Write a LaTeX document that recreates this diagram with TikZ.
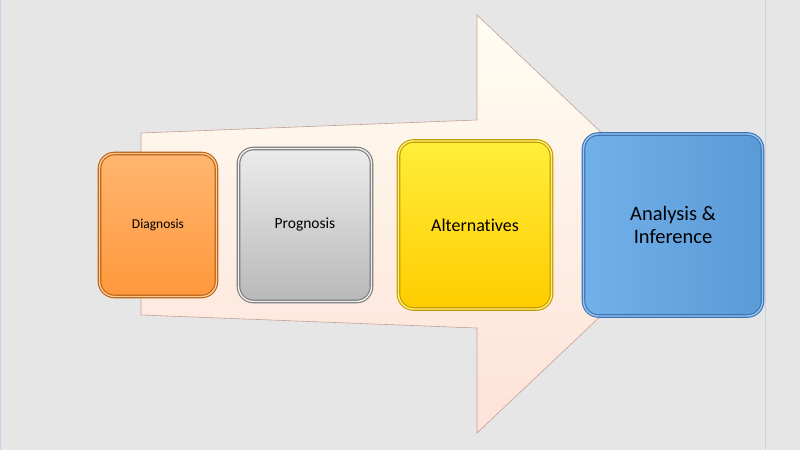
\documentclass[tikz,border=0pt]{standalone}
\usepackage{fontspec}
\setmainfont{Carlito}[Ligatures=NoCommon]
\usepackage{tikz}

\begin{document}
\begin{tikzpicture}[x=1pt,y=1pt]

	\definecolor{bggray}{RGB}{230,230,230}
	\definecolor{edgeblue}{RGB}{200,212,232}
	\definecolor{arrowtop}{RGB}{255,253,242}
	\definecolor{arrowbot}{RGB}{253,226,216}
	\definecolor{arrowedge}{RGB}{196,160,152}

	\fill[bggray] (0,0) rectangle (800,450);
	\useasboundingbox (0,0) rectangle (800,450);
	\draw[edgeblue, line width=1pt] (0.5,0) -- (0.5,450);
	\draw[edgeblue, line width=1pt] (765,0) -- (765,450);

	% big arrow behind the stages
	\tikzstyle{bigarrow} = [draw=arrowedge, line width=0.6pt, top color=arrowtop, bottom color=arrowbot]
	\path[bigarrow] (141,317) -- (477,330) -- (477,435) -- (698,226)
		-- (477,17) -- (477,122) -- (141,135) -- cycle;

	\tikzset{stage/.style = {shape=rectangle, rounded corners=15pt, align=center,
		inner sep=0pt, line width=1.1pt, double distance=1.4pt}}
	\node[stage, minimum width=117pt, minimum height=143pt,
		font={\fontsize{13.5}{16}\selectfont},
		top color={rgb,255:red,255;green,182;blue,112}, bottom color={rgb,255:red,255;green,152;blue,60},
		draw={rgb,255:red,184;green,96;blue,24}, double={rgb,255:red,255;green,200;blue,140}]
		(diag) at (158,225) {Diagnosis};
	\node[stage, minimum width=133pt, minimum height=153pt,
		font={\fontsize{15.5}{18}\selectfont},
		top color={rgb,255:red,236;green,236;blue,236}, bottom color={rgb,255:red,184;green,184;blue,184},
		draw={rgb,255:red,120;green,120;blue,120}, double={rgb,255:red,240;green,240;blue,240}]
		(prog) at (305,225) {Prognosis};
	\node[stage, minimum width=153pt, minimum height=168pt,
		font={\fontsize{18}{21}\selectfont},
		top color={rgb,255:red,255;green,238;blue,58}, bottom color={rgb,255:red,255;green,204;blue,0},
		draw={rgb,255:red,196;green,156;blue,0}, double={rgb,255:red,255;green,240;blue,120}]
		(alt) at (475,225) {Alternatives};
	\node[stage, minimum width=179pt, minimum height=182pt,
		font={\fontsize{20.5}{23}\selectfont},
		left color={rgb,255:red,114;green,176;blue,234}, right color={rgb,255:red,90;green,154;blue,214},
		draw={rgb,255:red,62;green,116;blue,180}, double={rgb,255:red,150;green,196;blue,240}]
		(ana) at (673,225) {Analysis \&\\Inference};
\end{tikzpicture}
\end{document}
